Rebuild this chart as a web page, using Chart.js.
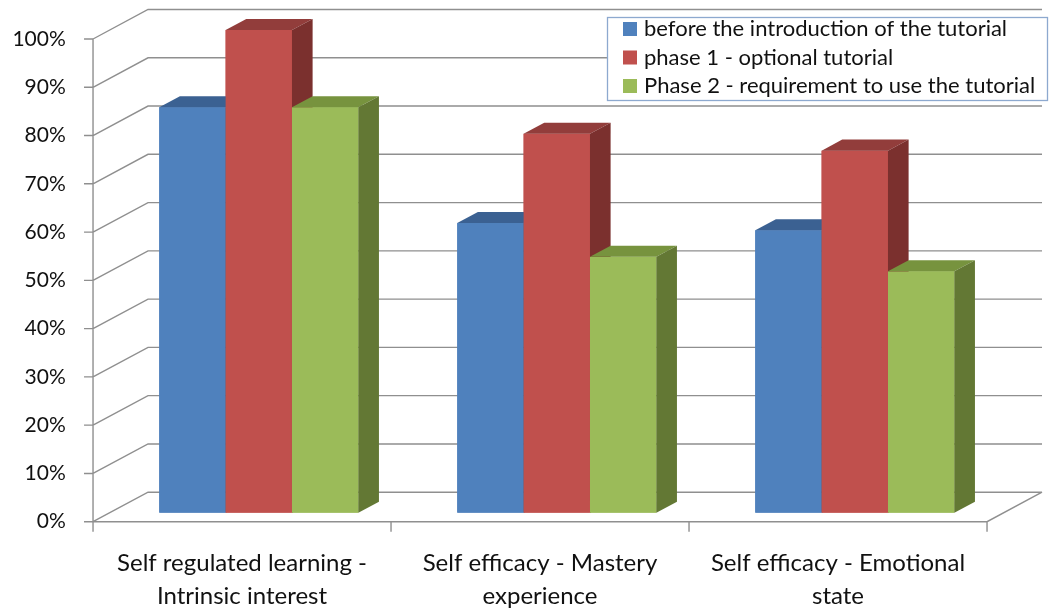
<!DOCTYPE html>
<html>
<head>
<meta charset="utf-8">
<script src="https://cdn.jsdelivr.net/npm/chart.js@4.4.1/dist/chart.umd.min.js"></script>
<style>
  html, body { margin: 0; padding: 0; background: #fff; }
  #wrap { width: 1049px; height: 610px; }
</style>
</head>
<body>
<div id="wrap"><canvas id="mainPlot"></canvas></div>
<script>
// chart data
const categories = [
  ["Self regulated learning -", "Intrinsic interest"],
  ["Self efficacy - Mastery", "experience"],
  ["Self efficacy - Emotional", "state"]
];
const seriesNames = [
  "before the introduction of the tutorial",
  "phase 1 - optional tutorial",
  "Phase 2 - requirement to use the tutorial"
];
const beforeValues = [84, 60, 58.5];
const phase1Values = [100, 78.5, 75];
const phase2Values = [84, 53, 50];

// face colours: front, top, side
const frontColors = ["#4F81BD", "#C0504D", "#9BBB59"];
const topColors = ["#3B6192", "#923D3B", "#77933E"];
const sideColors = ["#2F4F78", "#7B302E", "#637834"];

// 3d box geometry (oblique offsets, pixels)
const DX = 55, DY = -29.5;
const F_FRONT = 0.305, F_BACK = 0.68;

const box3d = {
  id: "box3d",
  // back walls, floor and front axes
  beforeDatasetsDraw(chart) {
    const { ctx, chartArea, scales } = chart;
    const y = scales.y;
    const ox = -F_FRONT * DX, oy = -F_FRONT * DY;
    const left = chartArea.left + ox, right = chartArea.right + ox;
    const py0 = y.getPixelForValue(0) + oy;

    ctx.save();
    ctx.strokeStyle = "#8f8f8f";
    ctx.lineWidth = 1.4;
    ctx.beginPath();
    y.ticks.forEach((t) => {
      const py = y.getPixelForValue(t.value) + oy;
      ctx.moveTo(left, py);
      ctx.lineTo(left + DX, py + DY);
      ctx.lineTo(right + DX, py + DY);
    });
    ctx.moveTo(left, py0);
    ctx.lineTo(right, py0);
    ctx.lineTo(right + DX, py0 + DY);
    ctx.moveTo(left, y.getPixelForValue(100) + oy);
    ctx.lineTo(left, py0 + 10);
    y.ticks.forEach((t) => {
      const py = y.getPixelForValue(t.value) + oy;
      ctx.moveTo(left - 9, py);
      ctx.lineTo(left, py);
    });
    const n = chart.data.labels.length;
    for (let i = 1; i <= n; i++) {
      const px = left + (right - left) * i / n;
      ctx.moveTo(px, py0);
      ctx.lineTo(px, py0 + 10);
    }
    ctx.stroke();
    ctx.restore();
  },
  // repaint each bar as a box, left to right so that occlusion is right
  afterDatasetsDraw(chart) {
    const ctx = chart.ctx;
    const bdx = (F_BACK - F_FRONT) * DX, bdy = (F_BACK - F_FRONT) * DY;
    const nCat = chart.data.labels.length;
    ctx.save();
    for (let c = 0; c < nCat; c++) {
      chart.data.datasets.forEach((ds, i) => {
        const el = chart.getDatasetMeta(i).data[c];
        const { x, y, base, width } = el.getProps(["x", "y", "base", "width"], true);
        const l = x - width / 2, r = x + width / 2;
        ctx.fillStyle = frontColors[i];
        ctx.fillRect(l, y, width, base - y);
        ctx.fillStyle = topColors[i];
        ctx.beginPath();
        ctx.moveTo(l, y);
        ctx.lineTo(l + bdx, y + bdy);
        ctx.lineTo(r + bdx, y + bdy);
        ctx.lineTo(r, y);
        ctx.closePath();
        ctx.fill();
        ctx.fillStyle = sideColors[i];
        ctx.beginPath();
        ctx.moveTo(r, y);
        ctx.lineTo(r + bdx, y + bdy);
        ctx.lineTo(r + bdx, base + bdy);
        ctx.lineTo(r, base);
        ctx.closePath();
        ctx.fill();
      });
    }
    ctx.restore();
  },
  // boxed legend, top right
  afterDraw(chart) {
    const ctx = chart.ctx;
    ctx.save();
    ctx.fillStyle = "#fff";
    ctx.fillRect(607, 17, 440, 83);
    ctx.strokeStyle = "#8DA9CF";
    ctx.lineWidth = 1.3;
    ctx.strokeRect(607.5, 17.5, 440, 83);
    ctx.font = "22px Lato";
    ctx.textBaseline = "middle";
    chart.data.datasets.forEach((ds, k) => {
      const cy = 29 + k * 28.5;
      ctx.fillStyle = frontColors[k];
      ctx.fillRect(623, cy - 7, 14, 14);
      ctx.fillStyle = "#111";
      ctx.fillText(ds.label, 644, cy);
    });
    ctx.restore();
  }
};

Chart.defaults.font.family = "Lato";
Chart.defaults.color = "#111";

new Chart(document.getElementById("mainPlot"), {
  type: "bar",
  data: {
    labels: categories,
    datasets: [
      { label: seriesNames[0], data: beforeValues, backgroundColor: frontColors[0] },
      { label: seriesNames[1], data: phase1Values, backgroundColor: frontColors[1] },
      { label: seriesNames[2], data: phase2Values, backgroundColor: frontColors[2] },
    ],
  },
  options: {
    responsive: true,
    maintainAspectRatio: false,
    animation: false,
    categoryPercentage: 0.668,
    barPercentage: 1,
    layout: { padding: { top: 30, right: 45.2, left: 0, bottom: 0 } },
    scales: {
      x: {
        grid: { display: false, drawTicks: true, tickLength: 34 },
        border: { display: false },
        ticks: {
          font: { size: 24, lineHeight: 1.37 },
          padding: 0,
          labelOffset: -16.8,
          maxRotation: 0,
        },
        afterFit: (s) => { s.height = 97.3; },
      },
      y: {
        min: 0,
        max: 100,
        grid: { display: false, drawTicks: true, tickLength: 44 },
        border: { display: false },
        ticks: {
          stepSize: 10,
          font: { size: 21 },
          padding: 0,
          labelOffset: 9,
          callback: (v) => v + "%",
        },
        afterFit: (s) => { s.width = 109.8; },
      },
    },
    plugins: {
      legend: { display: false },
      tooltip: { enabled: false },
    },
  },
  plugins: [box3d],
});
</script>
</body>
</html>
